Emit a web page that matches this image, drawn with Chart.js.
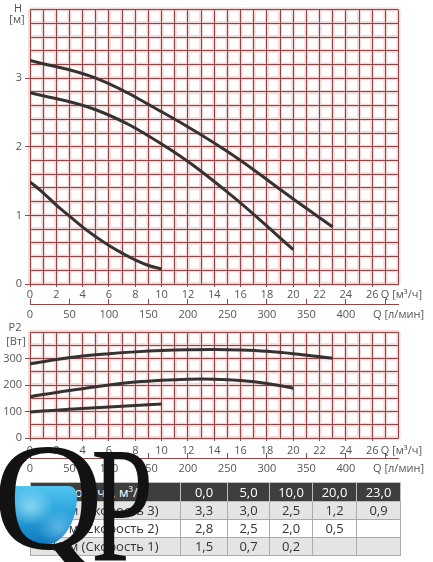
<!DOCTYPE html>
<html><head><meta charset="utf-8">
<script src="https://cdn.jsdelivr.net/npm/chart.js@4"></script>
<style>
html,body{margin:0;padding:0;background:#fff;width:433px;height:562px;overflow:hidden;font-family:"Open Sans",sans-serif;}
canvas{position:absolute;left:0;}
#c1{top:0;}
#c2{top:320px;}
.lbl{position:absolute;font-size:11px;line-height:12px;color:#555;width:30px;text-align:center;white-space:nowrap;}
#tbl{position:absolute;left:30px;top:482px;border-collapse:collapse;table-layout:fixed;width:370px;font-size:13px;color:#333;}
#tbl td{border:1px solid #ababab;height:17px;padding:0;text-align:center;line-height:17px;overflow:hidden;white-space:nowrap;}
#tbl tr.hd td{background:#3e3e3e;color:#fff;border-color:#bdbdbd;height:18px;}
#tbl tr.g td{background:#e4e4e4;}
#tbl tr.w td{background:#fff;}
#water{position:absolute;left:11px;top:486px;width:66px;height:59px;border-radius:3px 8px 33px 33px / 3px 10px 50px 50px;
 background:radial-gradient(ellipse at 30% 35%,rgba(190,240,255,.6) 0%,rgba(190,240,255,0) 35%),radial-gradient(ellipse at 72% 70%,rgba(160,225,255,.45) 0%,rgba(160,225,255,0) 32%),linear-gradient(180deg,#52c4f0 0%,#2aa3dc 45%,#0f78bd 100%);}
.logo{position:absolute;font-family:"Liberation Serif","DejaVu Serif",serif;color:#121212;}
#lq{left:-7px;top:421px;font-size:153px;line-height:153px;}
#lp{left:91px;top:423px;font-size:165px;line-height:165px;transform:scaleX(0.68);transform-origin:0 0;}
</style>
</head><body>
<canvas id="c1" width="433" height="330"></canvas>
<canvas id="c2" width="433" height="164"></canvas>
<div class="lbl" style="left:3px;top:2px;">H</div>
<div class="lbl" style="left:2px;top:13px;">[м]</div>
<div class="lbl" style="left:0px;top:321px;">P2</div>
<div class="lbl" style="left:1px;top:335px;">[Вт]</div>
<table id="tbl">
<colgroup><col style="width:150px"><col style="width:47px"><col style="width:42px"><col style="width:43px"><col style="width:44px"><col style="width:44px"></colgroup>
<tbody id="tb"></tbody>
</table>
<div id="water"></div>
<span class="logo" id="lq">Q</span><span class="logo" id="lp">P</span>
<script>
// ---- tick labels ----
const qHourTicks = [0,2,4,6,8,10,12,14,16,18,20,22,24,26];
const qMinTicks = [0,50,100,150,200,250,300,350,400];
const hTicks = [0,1,2,3];
const pTicks = [0,100,200,300];

// ---- H (head) curves, Q in m3/h ----
const h3Q = [0,5,10,15,20,23];
const h3  = [3.26,3.0,2.51,1.93,1.24,0.83];
const h2Q = [0,5,10,15,20];
const h2  = [2.79,2.54,2.04,1.34,0.5];
const h1Q = [0,1,2,3,4,5,6,7,8,9,10];
const h1  = [1.49,1.33,1.15,0.99,0.83,0.69,0.56,0.45,0.35,0.27,0.22];

// ---- P2 (power) curves ----
const p3Q = [0,2,4,6,8,10,12,14,16,18,20,23];
const p3  = [280,296,309,318,325,330,333,334,332,327,318,301];
const p2Q = [0,2,4,6,8,10,12,14,16,18,20];
const p2  = [156,172,186,200,211,218,222,222,217,206,188];
const p1Q = [0,2,4,6,8,10];
const p1  = [98,105,111,117,123,128];

// ---- table ----
const tableHead = 'Подача, м³/ч';
const tableFlow = [0,5,10,20,23];
const tableRowNames = ['Н, м (Скорость 3)','Н, м (Скорость 2)','Н, м (Скорость 1)'];
const tableH3 = [3.3,3.0,2.5,1.2,0.9];
const tableH2 = [2.8,2.5,2.0,0.5];
const tableH1 = [1.5,0.7,0.2];

const fmt = v => v.toFixed(1).replace('.', ',');
const tb = document.getElementById('tb');
function addRow(cls, first, vals){
  const tr = document.createElement('tr'); tr.className = cls;
  const cells = [first, ...tableFlow.map((_, i) => i < vals.length ? fmt(vals[i]) : '')];
  cells.forEach(t => { const td = document.createElement('td'); td.textContent = t; tr.appendChild(td); });
  tb.appendChild(tr);
}
addRow('hd', tableHead, tableFlow);
addRow('g', tableRowNames[0], tableH3);
addRow('w', tableRowNames[1], tableH2);
addRow('g', tableRowNames[2], tableH1);

// ---- charts ----
const GRID = '#8f4646';
const GLOW = 'rgba(215,125,125,0.30)';
const NONE = 'rgba(0,0,0,0)';
const QMAX = 28;
const QMIN_MAX = QMAX * 50 / 3;
const FONT = {family:'"Open Sans", sans-serif', size:11};
const r3 = v => Math.round(v * 1000) / 1000;

const glowPlugin = {
  id: 'glow',
  beforeDraw(chart){
    const {ctx, chartArea:a} = chart; const x = chart.scales.x, y = chart.scales.y;
    ctx.save(); ctx.strokeStyle = GLOW; ctx.lineWidth = 4; ctx.beginPath();
    x.ticks.forEach(t => { const p = x.getPixelForValue(t.value); ctx.moveTo(p, a.top); ctx.lineTo(p, a.bottom); });
    y.ticks.forEach(t => { const p = y.getPixelForValue(t.value); ctx.moveTo(a.left, p); ctx.lineTo(a.right, p); });
    ctx.stroke(); ctx.restore();
  }
};

function build(id, sets, yMax, yStep, yLabels, padTop, xPad){
  return new Chart(document.getElementById(id), {
    type: 'line',
    data: { datasets: sets.map(([qs, vs]) => ({
      data: qs.map((q, i) => ({x: q, y: vs[i]})),
      borderColor: '#363232', borderWidth: 3, pointRadius: 0, fill: false,
      tension: 0.4, borderCapStyle: 'butt'
    })) },
    plugins: [glowPlugin],
    options: {
      responsive: false, animation: false, events: [],
      layout: { padding: { top: padTop, right: 31, left: 0, bottom: 0 } },
      plugins: { legend: {display: false}, tooltip: {enabled: false} },
      scales: {
        x: {
          type: 'linear', position: 'bottom', weight: 0, min: 0, max: QMAX,
          afterFit: s => { s.height = 20; },
          ticks: { stepSize: 1, autoSkip: false, maxRotation: 0, padding: xPad, color: '#555', font: FONT,
            callback: v => qHourTicks.includes(v) ? String(v) : (v === QMAX ? '  Q [м³/ч]' : '') },
          grid: { color: GRID, lineWidth: 1, tickLength: 3,
            tickColor: c => (c.tick && qHourTicks.includes(c.tick.value)) ? GRID : NONE },
          border: { color: GRID, width: 1 }
        },
        x2: {
          type: 'linear', position: 'bottom', weight: 1, min: 0, max: QMIN_MAX,
          afterFit: s => { s.height = 26; },
          afterBuildTicks: s => { const t = []; for (let v = 0; v < QMIN_MAX; v += 50) t.push({value: v}); t.push({value: QMIN_MAX}); s.ticks = t; },
          ticks: { autoSkip: false, maxRotation: 0, padding: 9, color: '#555', font: FONT,
            callback: v => qMinTicks.includes(v) ? String(v) : (v === QMIN_MAX ? 'Q [л/мин]' : '') },
          grid: { drawOnChartArea: false, tickLength: -5, lineWidth: 1,
            tickColor: c => (c.tick && c.tick.value === QMIN_MAX) ? NONE : GRID },
          border: { color: GRID, width: 1 }
        },
        y: {
          type: 'linear', min: 0, max: yMax,
          afterFit: s => { s.width = 30; },
          ticks: { stepSize: yStep, autoSkip: false, padding: 3, color: '#555', font: FONT,
            callback: v => yLabels.includes(r3(v)) ? String(r3(v)) : '' },
          grid: { color: GRID, lineWidth: 1, tickLength: 5,
            tickColor: c => (c.tick && yLabels.includes(r3(c.tick.value))) ? GRID : NONE },
          border: { color: GRID, width: 1 }
        }
      }
    }
  });
}

build('c1', [[h3Q, h3], [h2Q, h2], [h1Q, h1]], 4, 0.2, hTicks, 6, 1.5);
build('c2', [[p3Q, p3], [p2Q, p2], [p1Q, p1]], 400, 50, pTicks, 12, 3);
</script>
</body></html>
